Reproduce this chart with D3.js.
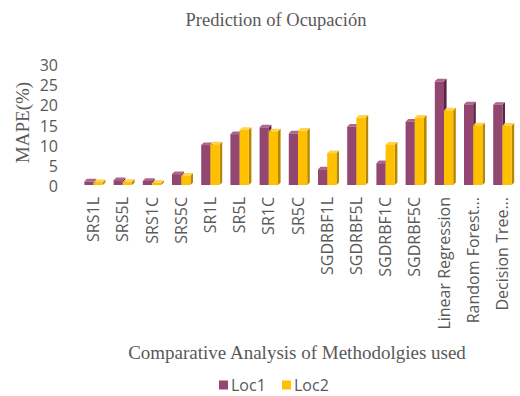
<!DOCTYPE html>
<html>
<head>
<meta charset="utf-8">
<script src="https://cdn.jsdelivr.net/npm/d3@7"></script>
<style>
  html, body { margin: 0; padding: 0; background: #ffffff; }
  svg { display: block; }
</style>
</head>
<body>
<div id="chart"></div>
<script>
// Methods compared, in axis order
const categories = ["SRS1L", "SRS5L", "SRS1C", "SRS5C", "SR1L", "SR5L", "SR1C", "SR5C",
  "SGDRBF1L", "SGDRBF5L", "SGDRBF1C", "SGDRBF5C", "Linear Regression",
  "Random Forest...", "Decision Tree..."];

// MAPE (%) per location
const loc1 = [0.9, 1.2, 1.0, 2.7, 9.9, 12.6, 14.3, 12.8, 3.9, 14.5, 5.4, 15.7, 25.7, 20.0, 19.9];
const loc2 = [0.7, 0.8, 0.55, 2.3, 10.1, 13.7, 13.3, 13.5, 7.9, 16.7, 10.0, 16.7, 18.5, 14.8, 14.7];

const seriesNames = ["Loc1", "Loc2"];
const yTicks = [0, 5, 10, 15, 20, 25, 30];

const W = 520, H = 396;
const textGray = "#595959";
const serif = "'Liberation Serif', 'Times New Roman', serif";
const sans = "'Open Sans', 'Noto Sans', sans-serif";

// front / top / side shades for the extruded bars
const palette = {
  Loc1: { front: "#924670", top: "#AD6690", side: "#5A2443" },
  Loc2: { front: "#FFC000", top: "#FFD34F", side: "#B58800" }
};

const svg = d3.select("#chart").append("svg")
  .attr("width", W).attr("height", H);

svg.append("rect").attr("width", W).attr("height", H).attr("fill", "#fff");

const x = d3.scaleBand().domain(categories).range([79, 517]).paddingInner(0.37).paddingOuter(0.185);
const xs = d3.scaleBand().domain(seriesNames).range([0, x.bandwidth()]);
const y = d3.scaleLinear().domain([0, 30]).range([185, 64]);

const depth = 2.6;

// Title
svg.append("text")
  .attr("x", 276).attr("y", 26)
  .attr("text-anchor", "middle")
  .attr("font-family", serif).attr("font-size", 18.5)
  .attr("fill", textGray)
  .text("Prediction of Ocupación");

// Y axis: tick labels only
const yAxis = d3.axisLeft(y).tickValues(yTicks).tickSize(0).tickPadding(0);
const gy = svg.append("g").attr("transform", "translate(58,1.5)").call(yAxis);
gy.select(".domain").remove();
gy.selectAll("text")
  .attr("font-family", sans).attr("font-size", 16)
  .attr("fill", textGray);

svg.append("text")
  .attr("transform", "translate(29,122.5) rotate(-90)")
  .attr("text-anchor", "middle")
  .attr("font-family", serif).attr("font-size", 19)
  .attr("fill", textGray)
  .text("MAPE(%)");

// Bars
const rows = categories.map((c, i) => ({ cat: c, values: [
  { key: "Loc1", value: loc1[i] }, { key: "Loc2", value: loc2[i] } ] }));

const groups = svg.append("g").selectAll("g").data(rows).join("g")
  .attr("transform", d => `translate(${x(d.cat)},0)`);

const bars = groups.selectAll("g.bar").data(d => d.values).join("g").attr("class", "bar");

bars.each(function(d) {
  const g = d3.select(this);
  const x0 = xs(d.key), w = xs.bandwidth();
  const y0 = y(0), yv = y(d.value);
  const c = palette[d.key];
  g.append("path")
    .attr("d", `M${x0 + w},${yv} L${x0 + w + depth},${yv - depth} L${x0 + w + depth},${y0 - depth} L${x0 + w},${y0} Z`)
    .attr("fill", c.side);
  g.append("path")
    .attr("d", `M${x0},${yv} L${x0 + depth},${yv - depth} L${x0 + w + depth},${yv - depth} L${x0 + w},${yv} Z`)
    .attr("fill", c.top);
  g.append("rect")
    .attr("x", x0).attr("y", yv)
    .attr("width", w).attr("height", y0 - yv)
    .attr("fill", c.front);
});

// X axis category labels, rotated
const xAxis = d3.axisBottom(x).tickSize(0).tickPadding(0);
const gx = svg.append("g").attr("transform", "translate(0,197)").call(xAxis);
gx.select(".domain").remove();
gx.selectAll("text")
  .attr("font-family", sans).attr("font-size", 16)
  .attr("fill", textGray)
  .attr("text-anchor", "end")
  .attr("dy", "0.35em")
  .attr("y", 0)
  .attr("transform", "rotate(-90)");

svg.append("text")
  .attr("x", 297).attr("y", 359)
  .attr("text-anchor", "middle")
  .attr("font-family", serif).attr("font-size", 19)
  .attr("fill", textGray)
  .text("Comparative Analysis of Methodolgies used");

// Legend
const legendX = [219, 282];
const legend = svg.append("g").selectAll("g").data(seriesNames).join("g")
  .attr("transform", (d, i) => `translate(${legendX[i]},385)`);
legend.append("rect")
  .attr("x", 0).attr("y", -4.5).attr("width", 9).attr("height", 9)
  .attr("fill", d => palette[d].front);
legend.append("text")
  .attr("x", 12).attr("y", 0).attr("dy", "0.35em")
  .attr("font-family", sans).attr("font-size", 16)
  .attr("fill", textGray)
  .text(d => d);
</script>
</body>
</html>
